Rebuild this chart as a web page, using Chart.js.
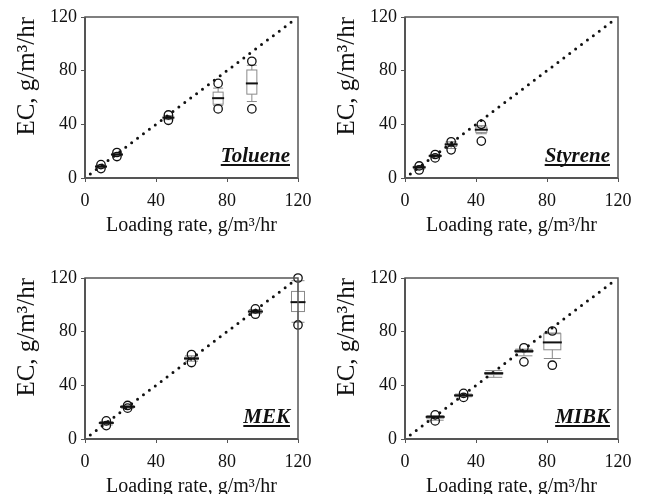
<!DOCTYPE html>
<html>
<head>
<meta charset="utf-8">
<script src="https://cdn.jsdelivr.net/npm/chart.js@4/dist/chart.umd.min.js"></script>
<style>
  body { margin: 0; background: #fff; overflow: hidden; }
  .panel { position: absolute; width: 320px; height: 250px; }
</style>
</head>
<body>
<div class="panel" style="left:0;top:0"><canvas id="tol"></canvas></div>
<div class="panel" style="left:320px;top:0"><canvas id="sty"></canvas></div>
<div class="panel" style="left:0;top:261px"><canvas id="mek"></canvas></div>
<div class="panel" style="left:320px;top:261px"><canvas id="mibk"></canvas></div>
<script>
// axis ticks
const tickVals = [0, 40, 80, 120];
// 1:1 reference line
const lineX = [3, 118];

// Toluene
const tolX   = [9, 18, 47, 75, 94];
const tolP5  = [7, 16, 43, 51.5, 51.5];
const tolP10 = [7.5, 16.5, 43.5, 54, 57];
const tolQ1  = [8, 17, 44.5, 55, 62.5];
const tolMed = [8.5, 17.5, 45, 59.5, 70.5];
const tolQ3  = [9, 18, 45.5, 64, 80.5];
const tolP90 = [9.5, 18.5, 46.5, 67, 84];
const tolP95 = [10, 19, 47, 70.5, 87];

// Styrene
const styX   = [8, 17, 26, 43];
const styP5  = [6, 15, 21, 27.5];
const styP10 = [6.5, 15.5, 22, 33];
const styQ1  = [7, 16, 23.5, 34];
const styMed = [8, 16.5, 25, 36];
const styQ3  = [8.5, 17, 26, 38];
const styP90 = [9, 17.5, 27, 39];
const styP95 = [9, 17.5, 27, 40];

// MEK
const mekX   = [12, 24, 60, 96, 120];
const mekP5  = [10, 23, 57, 93, 85];
const mekP10 = [10.5, 23, 58, 93.5, 87];
const mekQ1  = [11.5, 23.5, 59.5, 94.5, 95];
const mekMed = [12, 24, 60, 95, 102];
const mekQ3  = [12.5, 24.5, 61, 95.5, 110];
const mekP90 = [13, 25, 62, 96.5, 118];
const mekP95 = [13.5, 25, 63, 97, 120];

// MIBK
const mibX   = [17, 33, 50, 67, 83];
const mibP5  = [13.5, 31, null, 57.5, 55];
const mibP10 = [14, 31.5, 46, 62, 60];
const mibQ1  = [15.5, 32, 48, 64.5, 66.5];
const mibMed = [16.5, 32.5, 49, 65.5, 72];
const mibQ3  = [17, 33, 49.5, 66.5, 78.5];
const mibP90 = [17.5, 33.5, 51, 67, 79];
const mibP95 = [18, 34, null, 68, 80.5];

const serif = "'Liberation Serif', 'Times New Roman', serif";

// draws boxes, whiskers and medians using the chart scales
const boxPlugin = {
  id: 'boxes',
  beforeDatasetsDraw(chart) {
    const o = chart.options.plugins.boxes;
    const xs = chart.scales.x, ys = chart.scales.y;
    const ctx = chart.ctx;
    const hw = o.width / 2;
    ctx.save();
    o.x.forEach((xv, i) => {
      const px = xs.getPixelForValue(xv);
      const yq1 = ys.getPixelForValue(o.q1[i]), yq3 = ys.getPixelForValue(o.q3[i]);
      const ylo = ys.getPixelForValue(o.lo[i]), yhi = ys.getPixelForValue(o.hi[i]);
      const ymed = ys.getPixelForValue(o.med[i]);
      ctx.strokeStyle = '#8a8a8a';
      ctx.lineWidth = 1;
      ctx.beginPath();
      ctx.moveTo(px, yq1); ctx.lineTo(px, ylo);
      ctx.moveTo(px, yq3); ctx.lineTo(px, yhi);
      ctx.moveTo(px - hw, ylo); ctx.lineTo(px + hw, ylo);
      ctx.moveTo(px - hw, yhi); ctx.lineTo(px + hw, yhi);
      ctx.stroke();
      ctx.strokeRect(px - hw, yq3, o.width, yq1 - yq3);
      ctx.strokeStyle = '#111';
      ctx.lineWidth = 2;
      ctx.beginPath();
      ctx.moveTo(px - hw - 1, ymed); ctx.lineTo(px + hw + 1, ymed);
      ctx.stroke();
    });
    ctx.restore();
  },
  afterDraw(chart) {
    const o = chart.options.plugins.boxes;
    const a = chart.chartArea;
    const ctx = chart.ctx;
    ctx.save();
    // frame
    ctx.strokeStyle = '#555';
    ctx.lineWidth = 1.5;
    ctx.strokeRect(a.left, a.top, a.right - a.left, a.bottom - a.top);
    ctx.lineWidth = 2;
    ctx.beginPath();
    ctx.moveTo(a.left, a.top); ctx.lineTo(a.left, a.bottom); ctx.lineTo(a.right, a.bottom);
    ctx.stroke();
    // compound label
    ctx.font = 'italic bold 21px ' + serif;
    ctx.fillStyle = '#111';
    ctx.textAlign = 'right';
    ctx.textBaseline = 'alphabetic';
    const rx = a.right - 8, by = a.bottom - 16;
    ctx.fillText(o.label, rx, by);
    const w = ctx.measureText(o.label).width;
    ctx.fillRect(rx - w, by + 2, w, 2);
    ctx.restore();
  }
};

function makePanel(id, label, x, p5, p10, q1, med, q3, p90, p95, boxW) {
  const circles = [];
  x.forEach((xv, i) => {
    if (p5[i] != null) circles.push({ x: xv, y: p5[i] });
    if (p95[i] != null) circles.push({ x: xv, y: p95[i] });
  });
  new Chart(document.getElementById(id), {
    type: 'scatter',
    data: {
      datasets: [
        {
          type: 'line',
          data: lineX.map(v => ({ x: v, y: v })),
          borderColor: '#111',
          borderWidth: 3,
          borderDash: [0, 7.4],
          borderCapStyle: 'round',
          pointRadius: 0,
          fill: false
        },
        {
          data: circles,
          pointStyle: 'circle',
          pointRadius: 4.2,
          borderColor: '#111',
          borderWidth: 1.3,
          backgroundColor: 'rgba(0,0,0,0)',
          clip: false
        }
      ]
    },
    options: {
      responsive: false,
      animation: false,
      layout: { padding: { top: 17, right: 22, left: 0, bottom: 12 } },
      plugins: {
        legend: { display: false },
        tooltip: { enabled: false },
        boxes: { label, x, lo: p10, q1, med, q3, hi: p90, width: boxW }
      },
      scales: {
        x: {
          type: 'linear', min: 0, max: 120,
          afterBuildTicks: s => { s.ticks = tickVals.map(v => ({ value: v })); },
          afterFit: s => { s.height = 60; },
          grid: { drawOnChartArea: false, tickLength: 4, color: '#555' },
          border: { display: false },
          ticks: { color: '#111', font: { family: serif, size: 18 }, padding: 8, maxRotation: 0 },
          title: { display: true, text: 'Loading rate, g/m³/hr', color: '#111',
                   font: { family: serif, size: 20 }, padding: { top: 0, bottom: 0 } }
        },
        y: {
          type: 'linear', min: 0, max: 120,
          afterBuildTicks: s => { s.ticks = tickVals.map(v => ({ value: v })); },
          afterFit: s => { s.width = 85; },
          grid: { drawOnChartArea: false, tickLength: 4, color: '#555' },
          border: { display: false },
          ticks: { color: '#111', font: { family: serif, size: 18 }, padding: 4 },
          title: { display: true, text: 'EC, g/m³/hr', color: '#111', align: 'end',
                   font: { family: serif, size: 25 }, padding: { top: 12, bottom: 0 } }
        }
      }
    },
    plugins: [boxPlugin]
  });
}

function sizeCanvas(id) {
  const c = document.getElementById(id);
  c.width = 320; c.height = 250;
  c.style.width = '320px'; c.style.height = '250px';
}
['tol', 'sty', 'mek', 'mibk'].forEach(sizeCanvas);

makePanel('tol', 'Toluene', tolX, tolP5, tolP10, tolQ1, tolMed, tolQ3, tolP90, tolP95, 10);
makePanel('sty', 'Styrene', styX, styP5, styP10, styQ1, styMed, styQ3, styP90, styP95, 11);
makePanel('mek', 'MEK', mekX, mekP5, mekP10, mekQ1, mekMed, mekQ3, mekP90, mekP95, 13);
makePanel('mibk', 'MIBK', mibX, mibP5, mibP10, mibQ1, mibMed, mibQ3, mibP90, mibP95, 17);
</script>
</body>
</html>
